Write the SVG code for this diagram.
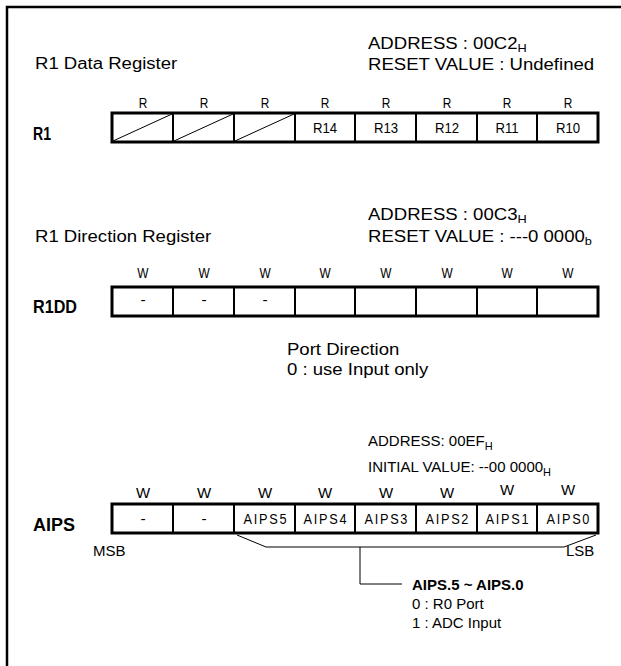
<svg xmlns="http://www.w3.org/2000/svg" width="621" height="666" viewBox="0 0 621 666">
<style>
.t{font-family:"Liberation Sans",Arial,sans-serif;font-size:16px;fill:#000}
.u{font-family:"Liberation Sans",Arial,sans-serif;font-size:15px;fill:#000}
.n{font-family:"Liberation Sans",Arial,sans-serif;font-size:15.5px;fill:#000}
.a{font-family:"Liberation Sans",Arial,sans-serif;font-size:15px;letter-spacing:2px;fill:#000}
.s{font-family:"Liberation Sans",Arial,sans-serif;font-size:14px;fill:#000}
.b{font-family:"Liberation Sans",Arial,sans-serif;font-size:19px;font-weight:bold;fill:#000}
.box{fill:#fff;stroke:#000;stroke-width:3}
.div{stroke:#000;stroke-width:2}
.thin{stroke:#000;stroke-width:1;fill:none}
.sub{font-size:11px}
</style>
<rect width="621" height="666" fill="#fff"/>
<path d="M7 666 V7 H621" fill="none" stroke="#000" stroke-width="2.5"/>

<g id="r1">
<text class="t" transform="translate(35,69) scale(1.16,1)">R1 Data Register</text>
<text class="t" transform="translate(368,49) scale(1.16,1)">ADDRESS : 00C2<tspan class="sub" dy="3">H</tspan></text>
<text class="t" transform="translate(368,70) scale(1.16,1)">RESET VALUE : Undefined</text>
<g class="s" text-anchor="middle" transform="scale(0.85,1)">
<text x="168.2" y="108">R</text><text x="240" y="108">R</text><text x="311.8" y="108">R</text><text x="382.4" y="108">R</text><text x="454.1" y="108">R</text><text x="525.9" y="108">R</text><text x="596.5" y="108">R</text><text x="668.2" y="108">R</text>
</g>
<text class="b" x="33" y="140" textLength="18" lengthAdjust="spacingAndGlyphs">R1</text>
<rect class="box" x="112" y="113" width="486" height="29"/>
<path class="div" d="M173 113V142M234 113V142M295 113V142M355 113V142M416 113V142M477 113V142M537 113V142"/>
<path class="thin" d="M113 141L172 114M174 141L233 114M235 141L294 114"/>
<g class="n" text-anchor="middle" transform="scale(0.85,1)">
<text x="382.4" y="133">R14</text><text x="454.1" y="133">R13</text><text x="525.9" y="133">R12</text><text x="596.5" y="133">R11</text><text x="668.2" y="133">R10</text>
</g>
</g>

<g id="r1dd">
<text class="t" transform="translate(35,242) scale(1.16,1)">R1 Direction Register</text>
<text class="t" transform="translate(368,220) scale(1.16,1)">ADDRESS : 00C3<tspan class="sub" dy="3">H</tspan></text>
<text class="t" transform="translate(368,242) scale(1.16,1)">RESET VALUE : ---0 0000<tspan class="sub" dy="3">b</tspan></text>
<g class="s" text-anchor="middle" transform="scale(0.85,1)">
<text x="168.2" y="278">W</text><text x="240" y="278">W</text><text x="311.8" y="278">W</text><text x="382.4" y="278">W</text><text x="454.1" y="278">W</text><text x="525.9" y="278">W</text><text x="596.5" y="278">W</text><text x="668.2" y="278">W</text>
</g>
<text class="b" x="33" y="313" textLength="44" lengthAdjust="spacingAndGlyphs">R1DD</text>
<rect class="box" x="112" y="287" width="486" height="29"/>
<path class="div" d="M173 287V316M234 287V316M295 287V316M355 287V316M416 287V316M477 287V316M537 287V316"/>
<g class="n" text-anchor="middle">
<text x="143" y="305">-</text><text x="204" y="305">-</text><text x="265" y="305">-</text>
</g>
<text class="t" transform="translate(287,355) scale(1.16,1)">Port Direction</text>
<text class="t" transform="translate(287,375) scale(1.16,1)">0 : use Input only</text>
</g>

<g id="aips">
<text class="u" x="368" y="446">ADDRESS: 00EF<tspan class="sub" dy="4">H</tspan></text>
<text class="u" x="368" y="472">INITIAL VALUE: --00 0000<tspan class="sub" dy="4">H</tspan></text>
<g class="u" text-anchor="middle">
<text x="143" y="498">W</text><text x="204" y="498">W</text><text x="265" y="498">W</text><text x="325" y="498">W</text><text x="386" y="498">W</text><text x="447" y="498">W</text><text x="507" y="495">W</text><text x="568" y="495">W</text>
</g>
<text class="b" x="33" y="531" textLength="42" lengthAdjust="spacingAndGlyphs">AIPS</text>
<rect class="box" x="112" y="504" width="486" height="29"/>
<path class="div" d="M173 504V533M234 504V533M295 504V533M355 504V533M416 504V533M477 504V533M537 504V533"/>
<g class="n" text-anchor="middle">
<text x="143" y="524">-</text><text x="204" y="524">-</text>
</g>
<g class="a" text-anchor="middle" transform="scale(0.85,1)">
<text x="312.8" y="524">AIPS5</text><text x="383.4" y="524">AIPS4</text><text x="455.1" y="524">AIPS3</text><text x="526.9" y="524">AIPS2</text><text x="597.5" y="524">AIPS1</text><text x="669.2" y="524">AIPS0</text>
</g>
<text class="u" x="93" y="556">MSB</text>
<text class="u" x="566" y="556">LSB</text>
<text class="u" x="412" y="590" font-weight="bold">AIPS.5 ~ AIPS.0</text>
<text class="u" x="412" y="609">0 : R0 Port</text>
<text class="u" x="412" y="628">1 : ADC Input</text>
</g>

<g id="connectors">
<path class="thin" d="M237 535L266 547H564L596 535"/>
<path class="thin" d="M360 547V584H402"/>
</g>
</svg>
